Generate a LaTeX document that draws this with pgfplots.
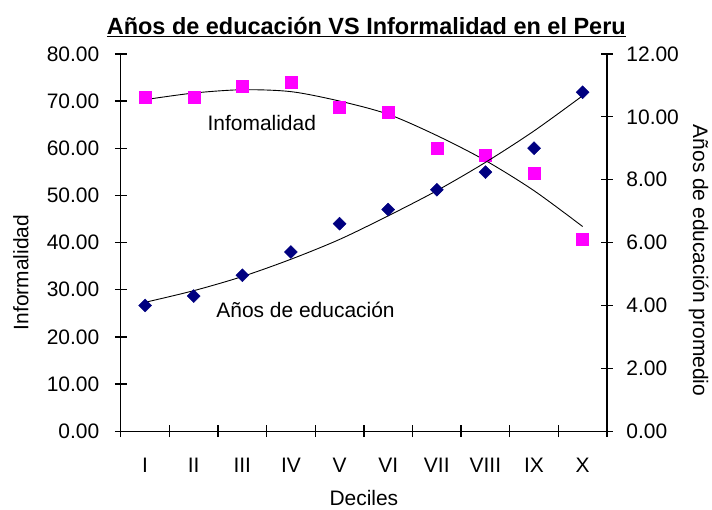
\documentclass[border=0pt]{standalone}
\usepackage{pgfplots}
\pgfplotsset{compat=1.18}
\usepackage{fontspec}
\setmainfont{Liberation Sans}
\definecolor{pinkm}{RGB}{255,0,255}
\definecolor{navyb}{RGB}{0,0,128}
\begin{document}
\begin{tikzpicture}[font=\fontsize{21}{25}\selectfont]
\pgfplotsset{
  common/.style={
    scale only axis, width=487pt, height=378pt,
    xmin=0.5, xmax=10.5, clip=false,
    tick align=center, major tick length=12pt,
    axis line style={line width=1.3pt},
    every tick/.style={line width=1.3pt, black},
    /pgf/number format/assume math mode=true,
    yticklabel style={/pgf/number format/fixed, /pgf/number format/fixed zerofill, /pgf/number format/precision=2},
  }
}
\begin{axis}[common, name=ax,
  ymin=0, ymax=80, ytick={0,10,...,80},
  axis x line*=bottom, axis y line*=left,
  xtick={0.5,1.5,...,10.5}, x tick label as interval,
  xticklabels={I,II,III,IV,V,VI,VII,VIII,IX,X},
  xticklabel style={yshift=-17pt},
  yticklabel style={xshift=-12pt},
  xlabel={Deciles}, xlabel style={at={(axis description cs:0.5,-0.1772)}, anchor=center},
  ylabel={Informalidad}, ylabel style={at={(axis description cs:-0.2053,0.4206)}, anchor=center},
]
\addplot[only marks, mark=square*, mark size=6pt, mark options={draw=pinkm, fill=pinkm}] coordinates {
 (1,70.9) (2,70.8) (3,73.1) (4,73.9) (5,68.8) (6,67.6) (7,60.0) (8,58.6) (9,54.8) (10,40.8)};
\addplot[black, line width=0.9pt, smooth, no marks] coordinates {
 (1,70.3) (2,71.7) (3,72.4) (4,72.0) (5,70.0) (6,67.2) (7,62.7) (8,57.4) (9,51.0) (10,43.4)};
\node at (axis cs:3.40,65.4) {Infomalidad};
\node at (axis cs:4.30,25.8) {Años de educación};
\node at (axis description cs:0.505,1.072) {\fontsize{23.5}{27}\selectfont\bfseries\underline{Años de educación VS Informalidad en el Peru}};
\end{axis}
\begin{axis}[common,
  ymin=0, ymax=12, ytick={0,2,...,12},
  axis x line=none, axis y line*=right,
  yticklabel style={xshift=10pt},
  ylabel={Años de educación promedio}, ylabel style={at={(axis description cs:1.1889,0.4524)}, anchor=center, rotate=180},
]
\addplot[only marks, mark=square*, mark size=4.6pt, mark options={rotate=45, draw=navyb, fill=navyb}] coordinates {
 (1,4.00) (2,4.30) (3,4.96) (4,5.70) (5,6.60) (6,7.05) (7,7.68) (8,8.24) (9,9.00) (10,10.78)};
\addplot[black, line width=0.9pt, smooth, no marks] coordinates {
 (1,4.10) (2,4.47) (3,4.92) (4,5.47) (5,6.10) (6,6.85) (7,7.65) (8,8.55) (9,9.55) (10,10.67)};
\end{axis}
\path[use as bounding box] ([xshift=-121pt,yshift=-76pt]ax.south west) rectangle ([xshift=104pt,yshift=54pt]ax.north east);
\end{tikzpicture}
\end{document}
